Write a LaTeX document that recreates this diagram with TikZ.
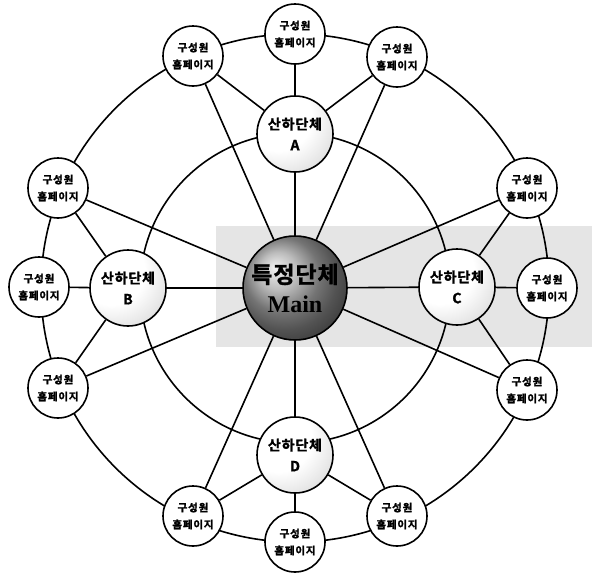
\documentclass[tikz,border=0pt]{standalone}
\usepackage{fontspec}
\usetikzlibrary{backgrounds}
\newfontfamily\kr{Noto Sans CJK KR Bold}[LetterSpace=8,FakeBold=2]
\newfontfamily\krsub{Noto Sans CJK KR Bold}[LetterSpace=6,FakeBold=1.5]
\newfontfamily\krmain{Noto Sans CJK KR Bold}[LetterSpace=4,FakeBold=1.5]
\newfontfamily\mainserif{Liberation Serif}
\pgfdeclareradialshading{subsh}{\pgfpoint{-14bp}{14bp}}{color(0bp)=(white); color(22bp)=(white); color(52bp)=(gray!45); color(100bp)=(gray!45)}
\tikzset{
  conn/.style={line width=1.6pt, black},
  member/.style={circle, draw, line width=1.6pt, fill=white, minimum size=60pt, inner sep=0pt, align=center, font=\kr\fontsize{10.5}{17}\selectfont},
  subgrp/.style={circle, draw, line width=1.6pt, shading=subsh, minimum size=76pt, inner sep=0pt, align=center, font=\krsub\fontsize{14}{21}\selectfont},
  mainnode/.style={circle, draw, line width=1.6pt, ball color=gray!70, minimum size=104pt, inner sep=0pt, align=center, font=\fontsize{23}{29}\selectfont},
  band/.style={fill=gray!20}
}
\begin{document}
\begin{tikzpicture}[x=1pt,y=-1pt]
\useasboundingbox (0,0) rectangle (592,573);
\coordinate (O) at (295,288);
% nodes
\node[mainnode] (main) at (295,288) {{\krmain 특정단체}\\{\mainserif\bfseries\fontsize{24}{29}\selectfont Main}};
\node[subgrp] (A) at (295,134) {산하단체\\A};
\node[subgrp] (B) at (128,288) {산하단체\\B};
\node[subgrp] (C) at (457,287) {산하단체\\C};
\node[subgrp] (D) at (295,455) {산하단체\\D};
\node[member] (tm) at (295,34) {구성원\\홈페이지};
\node[member] (tl) at (193,56) {구성원\\홈페이지};
\node[member] (tr) at (397,57) {구성원\\홈페이지};
\node[member] (lu) at (58,188) {구성원\\홈페이지};
\node[member] (lm) at (39,287) {구성원\\홈페이지};
\node[member] (ll) at (58,388) {구성원\\홈페이지};
\node[member] (ru) at (527,188) {구성원\\홈페이지};
\node[member] (rm) at (547,288) {구성원\\홈페이지};
\node[member] (rl) at (527,390) {구성원\\홈페이지};
\node[member] (bl) at (193,516) {구성원\\홈페이지};
\node[member] (bm) at (295,542) {구성원\\홈페이지};
\node[member] (br) at (397,516) {구성원\\홈페이지};
\begin{scope}[on background layer]
\fill[band] (216,226) rectangle (592,347);
\draw[conn] (O) circle[radius=254pt];
\draw[conn] (O) circle[radius=155pt];
\foreach \n in {A,B,C,D,tl,tr,lu,ll,ru,rl,bl,br} {\draw[conn] (main) -- (\n);}
\foreach \n in {tl,tm,tr} {\draw[conn] (A) -- (\n);}
\foreach \n in {lu,lm,ll} {\draw[conn] (B) -- (\n);}
\foreach \n in {ru,rm,rl} {\draw[conn] (C) -- (\n);}
\foreach \n in {bl,bm,br} {\draw[conn] (D) -- (\n);}
\end{scope}
\end{tikzpicture}
\end{document}
